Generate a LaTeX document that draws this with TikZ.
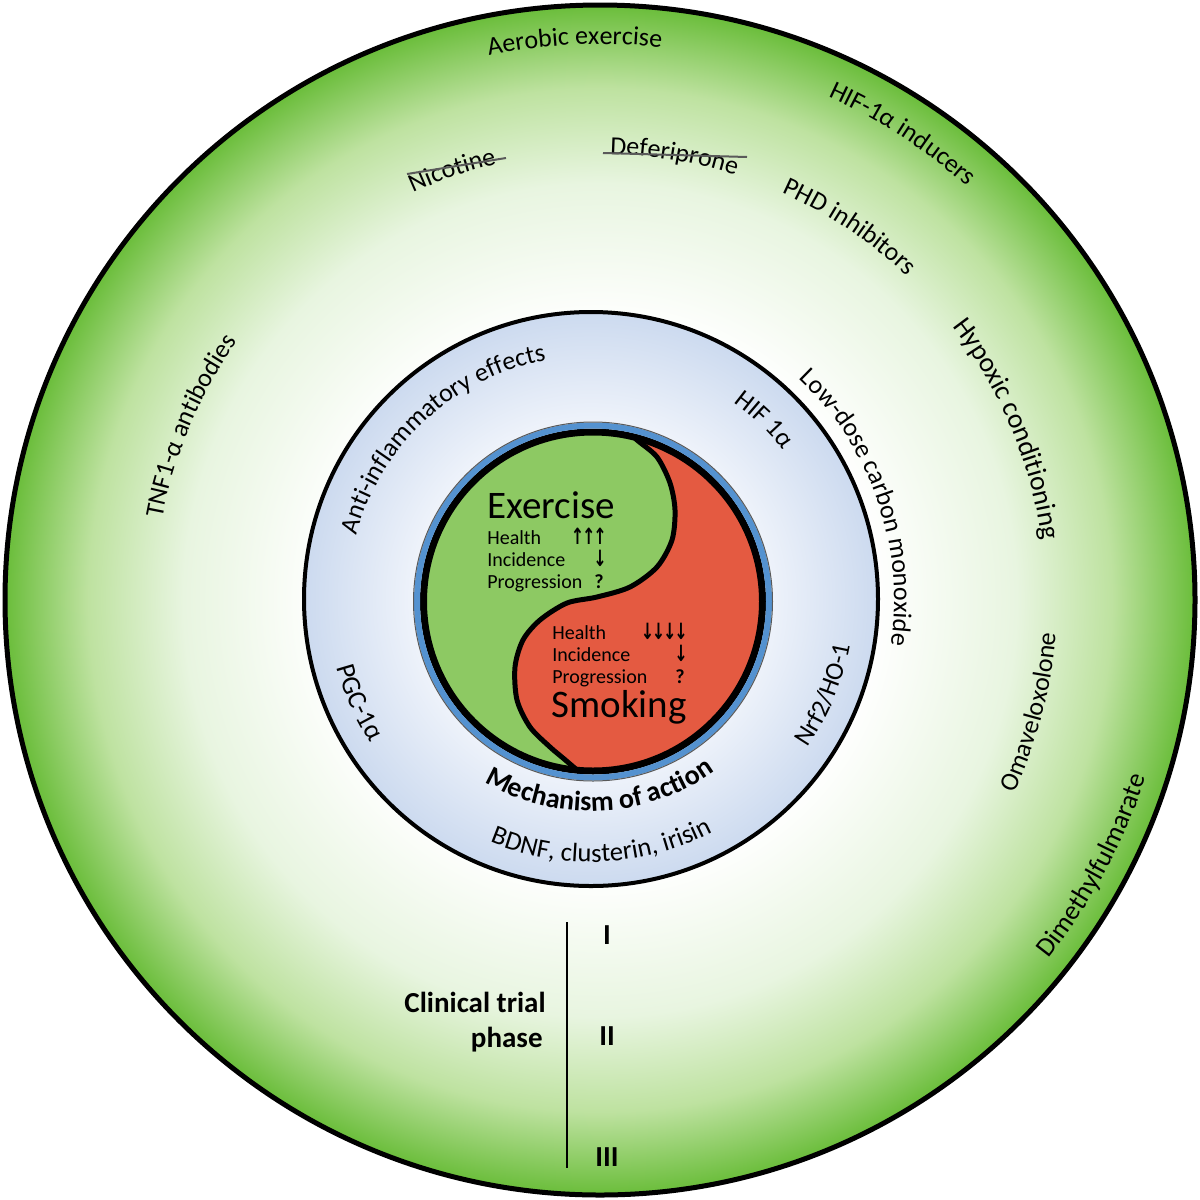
\documentclass[tikz,border=0pt]{standalone}
\usepackage{fontspec}
\setmainfont{Carlito}
\newfontfamily\arrowfont{DejaVu Sans}
\usepackage{graphicx}
\usetikzlibrary{decorations.text}
\definecolor{ringgreen}{RGB}{106,189,58}
\definecolor{lgA}{RGB}{232,245,224}
\definecolor{lgB}{RGB}{190,226,160}
\definecolor{yingreen}{RGB}{141,201,99}
\definecolor{yangred}{RGB}{228,90,65}
\definecolor{ringblue}{RGB}{84,146,208}
\definecolor{midblue}{RGB}{204,218,239}
\definecolor{midpale}{RGB}{240,244,251}
\definecolor{strikegray}{RGB}{90,90,90}
\pgfdeclareradialshading{outershade}{\pgfpoint{0bp}{0bp}}{color(0bp)=(white); color(11.5bp)=(white); color(17.5bp)=(lgA); color(21.5bp)=(lgB); color(25bp)=(ringgreen); color(50bp)=(ringgreen)}
\pgfdeclareradialshading{midshade}{\pgfpoint{0bp}{0bp}}{color(0bp)=(midpale); color(15bp)=(midpale); color(25bp)=(midblue); color(50bp)=(midblue)}
\newcommand{\ringfont}{\fontsize{13}{15.6}\selectfont}
\newcommand{\arcCW}[5]{%
  \pgfmathsetmacro\aStart{#2+#4}\pgfmathsetmacro\aEnd{#2-#4}%
  \path[decorate,decoration={text along path,text align=center,text={#5}}]
    ([shift={(\aStart:#3)}]#1) arc[start angle=\aStart, end angle=\aEnd, radius=#3];}
\newcommand{\arcCCW}[5]{%
  \pgfmathsetmacro\aStart{#2-#4}\pgfmathsetmacro\aEnd{#2+#4}%
  \path[decorate,decoration={text along path,text align=center,text={#5}}]
    ([shift={(\aStart:#3)}]#1) arc[start angle=\aStart, end angle=\aEnd, radius=#3];}
\newcommand{\upar}{\scalebox{0.8}[1.12]{\arrowfont\bfseries ↑}\kern-1.1pt}
\newcommand{\dnar}{\scalebox{0.8}[1.12]{\arrowfont\bfseries ↓}\kern-1.1pt}
\begin{document}
\begin{tikzpicture}[x=0.5pt,y=0.5pt,
  small/.style={inner sep=0pt,font=\fontsize{10}{12}\selectfont},
  big/.style={inner sep=0pt,font=\fontsize{19.5}{22}\selectfont},
  trial/.style={inner sep=0pt,font=\bfseries\fontsize{14.5}{17}\selectfont},
  strike/.style={strikegray,line width=1pt}]
\useasboundingbox (0,0) rectangle (1200,-1200);
\fill[white] (0,0) rectangle (1200,-1200);
\coordinate (C1) at (600,-600);
\coordinate (C2) at (591,-599);
\coordinate (C3) at (593,-601.5);
% outer disc
\shade[shading=outershade] (C1) circle (595);
\draw[line width=2.5pt] (C1) circle (595);
% middle disc
\shade[shading=midshade] (C2) circle (287);
\draw[line width=2pt] (C2) circle (287);
% yin-yang
\begin{scope}
\clip (C3) circle (167);
\fill[yangred] (C3) circle (167);
\fill[yingreen] (620,-410) -- plot[smooth] coordinates {(625,-428) (637,-440) (657,-457) (670,-483) (675,-510) (672,-540) (657,-567) (630,-587) (597,-597) (567,-603) (540,-620) (523,-640) (515,-667) (517,-700) (530,-727) (550,-747) (563,-758) (577,-770)} -- (585,-800) -- (400,-800) -- (400,-410) -- cycle;
\draw[line width=2.5pt] plot[smooth] coordinates {(625,-428) (637,-440) (657,-457) (670,-483) (675,-510) (672,-540) (657,-567) (630,-587) (597,-597) (567,-603) (540,-620) (523,-640) (515,-667) (517,-700) (530,-727) (550,-747) (563,-758) (577,-770)};
\end{scope}
\draw[line width=3.5pt] (C3) circle (169.5);
\draw[ringblue,line width=3pt] (C3) circle (176);
\draw[black!65,line width=0.5pt] (C3) circle (179.5);
% yin-yang texts
\node[big,anchor=base west] (ex) at (487,-518) {Exercise};
\node[small,anchor=base west] (exh) at (487,-544) {Health};
\node[small,anchor=base west] (exi) at (487,-566) {Incidence};
\node[small,anchor=base west] (exp) at (487,-588) {Progression};
\node[small,anchor=base east] (exha) at (605,-544) {\upar\upar\upar};
\node[small,anchor=base east] (exia) at (605,-566) {\dnar};
\node[small,anchor=base east,font=\bfseries\fontsize{10}{12}\selectfont] (expa) at (604,-588) {?};
\node[small,anchor=base west] (smh) at (552,-639) {Health};
\node[small,anchor=base west] (smi) at (552,-661) {Incidence};
\node[small,anchor=base west] (smp) at (552,-683) {Progression};
\node[small,anchor=base east] (smha) at (686,-639) {\dnar\dnar\dnar\dnar};
\node[small,anchor=base east] (smia) at (686,-661) {\dnar};
\node[small,anchor=base east,font=\bfseries\fontsize{10}{12}\selectfont] (smpa) at (685,-683) {?};
\node[big,anchor=base west] (sm) at (551,-717) {Smoking};
% middle ring texts
\arcCW{C2}{132.7}{243}{45}{|\ringfont|Anti-inflammatory effects}
\arcCW{C2}{46}{243}{30}{|\ringfont|HIF 1α}
\arcCW{C2}{19}{303}{40}{|\ringfont|Low-dose carbon monoxide}
\arcCCW{C2}{204}{263}{30}{|\fontsize{13.5}{16}\selectfont|PGC-1α}
\arcCCW{C2}{-22.3}{263}{30}{|\ringfont|Nrf2/HO-1}
\arcCCW{C2}{-87.3}{212}{45}{|\bfseries\fontsize{14}{16.8}\selectfont|Mechanism of action}
\arcCCW{C2}{-87.5}{263}{40}{|\fontsize{13.3}{16}\selectfont|BDNF, clusterin, irisin}
% outer ring texts
\arcCW{C1}{92.6}{556}{15}{|\ringfont|Aerobic exercise}
\arcCW{C1}{57}{553}{15}{|\ringfont|HIF-1α inducers}
\arcCW{C1}{109}{448}{12}{|\ringfont|Nicotine}
\arcCW{C1}{80.5}{446}{15}{|\ringfont|Deferiprone}
\arcCW{C1}{56.2}{446}{15}{|\ringfont|PHD inhibitors}
\arcCW{C1}{22.8}{446}{22}{|\fontsize{13.8}{16.5}\selectfont|Hypoxic conditioning}
\arcCW{C1}{157}{445}{18}{|\ringfont|TNF1-α antibodies}
\arcCCW{C1}{-14.6}{457}{15}{|\ringfont|Omaveloxolone}
\arcCCW{C1}{-28.3}{574}{16}{|\fontsize{13.5}{16}\selectfont|Dimethylfulmarate}
% strike lines
\coordinate (nicA) at (407,-174);
\coordinate (nicB) at (506,-158);
\coordinate (defA) at (603,-153);
\coordinate (defB) at (747,-157);
\draw[strike] (nicA) -- (nicB);
\draw[strike] (defA) -- (defB);
% clinical trial phase
\coordinate (phTop) at (567,-922);
\coordinate (phBot) at (567,-1168);
\draw[line width=1pt] (phTop) -- (phBot);
\node[trial,anchor=base east] (ct1) at (546,-1012) {Clinical trial};
\node[trial,anchor=base east] (ct2) at (543,-1047) {phase};
\node[trial] (p1) at (607,-935) {I};
\node[trial] (p2) at (607,-1036) {II};
\node[trial] (p3) at (607,-1157) {III};
\end{tikzpicture}
\end{document}
